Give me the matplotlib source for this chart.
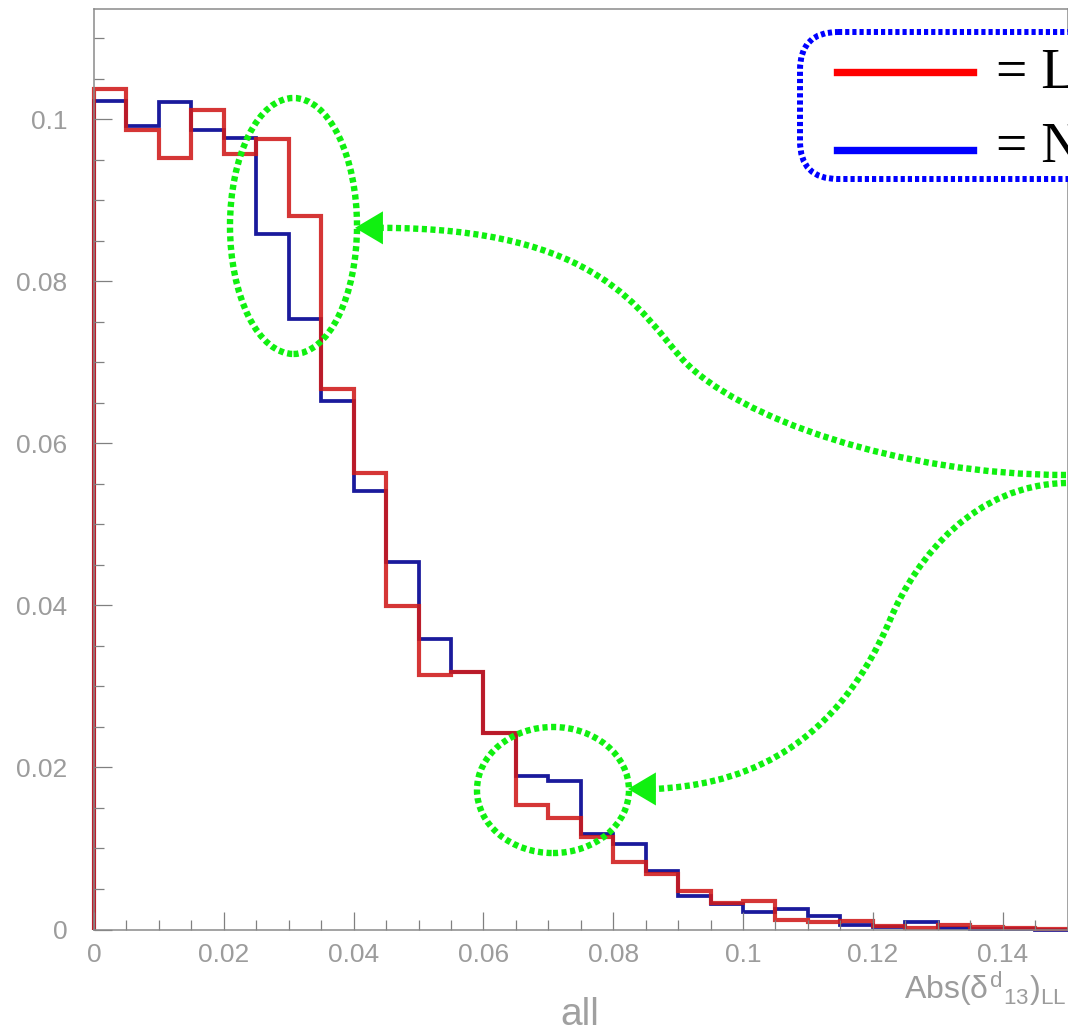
import numpy as np
import matplotlib
matplotlib.use("Agg")
import matplotlib.pyplot as plt
from matplotlib.patches import Ellipse, Polygon, FancyBboxPatch, PathPatch
from matplotlib.path import Path
from matplotlib.lines import Line2D
from matplotlib.ticker import MultipleLocator, FixedLocator, FixedFormatter
from matplotlib.transforms import Affine2D

plt.rcParams['font.family'] = ['Liberation Sans', 'DejaVu Sans']
plt.rcParams['mathtext.fontset'] = 'custom'
plt.rcParams['mathtext.rm'] = 'Liberation Sans'
plt.rcParams['mathtext.it'] = 'Liberation Sans'
plt.rcParams['mathtext.bf'] = 'Liberation Sans:bold'

# histogram: 30 bins of width 0.005 from 0 to 0.15
BIN_EDGES = np.linspace(0.0, 0.15, 31)

L_VALUES = [0.1038, 0.0987, 0.0953, 0.1012, 0.0957, 0.0976, 0.0881, 0.0667,
            0.0564, 0.0399, 0.0314, 0.0318, 0.0242, 0.0154, 0.0138, 0.0114,
            0.0083, 0.0068, 0.0047, 0.0033, 0.0035, 0.0012, 0.0009, 0.0010,
            0.0004, 0.0002, 0.0006, 0.0003, 0.0002, 0.0001]
N_VALUES = [0.1023, 0.0992, 0.1021, 0.0987, 0.0977, 0.0859, 0.0754, 0.0652,
            0.0541, 0.0454, 0.0359, 0.0318, 0.0242, 0.0190, 0.0183, 0.0118,
            0.0105, 0.0072, 0.0041, 0.0032, 0.0022, 0.0025, 0.0017, 0.0006,
            0.0003, 0.0009, 0.0002, 0.0001, 0.0001, 0.0000]

X_TICKS = [0, 0.02, 0.04, 0.06, 0.08, 0.1, 0.12, 0.14]
X_TICK_LABELS = ["0", "0.02", "0.04", "0.06", "0.08", "0.1", "0.12", "0.14"]
Y_TICKS = [0, 0.02, 0.04, 0.06, 0.08, 0.1]
Y_TICK_LABELS = ["0", "0.02", "0.04", "0.06", "0.08", "0.1"]
LEGEND_LABELS = ["= L", "= N"]
X_TITLE = r"Abs($\delta^{d}{}_{13}$)$_{LL}$"
BOTTOM_TEXT = "all"

RED = "#d01a1a"
BLUE = "#1a1a9c"
GREEN = "#10f010"
GREY = "#9c9c9c"

W, H = 1068, 1031
fig = plt.figure(figsize=(W / 100, H / 100), dpi=100)
ax = fig.add_axes([94 / W, 1 - 929.5 / H, (1067.5 - 94) / W, (929.5 - 9.3) / H])

ax.stairs(N_VALUES, BIN_EDGES, baseline=0, color=BLUE, lw=2.7, clip_on=False)
ax.stairs(L_VALUES, BIN_EDGES, baseline=0, color=RED, lw=3.0, alpha=0.88, clip_on=False)

ax.set_xlim(0, 0.15)
ax.set_ylim(0, 0.1136)

ax.xaxis.set_major_locator(FixedLocator(X_TICKS))
ax.xaxis.set_major_formatter(FixedFormatter(X_TICK_LABELS))
ax.xaxis.set_minor_locator(MultipleLocator(0.005))
ax.yaxis.set_major_locator(FixedLocator(Y_TICKS))
ax.yaxis.set_major_formatter(FixedFormatter(Y_TICK_LABELS))
ax.yaxis.set_minor_locator(MultipleLocator(0.005))

ax.tick_params(which='both', direction='in', color='#808080', width=0.9,
               labelcolor=GREY, labelsize=19)
ax.tick_params(which='major', length=13)
ax.tick_params(which='minor', length=7.5)
ax.tick_params(axis='x', pad=10)
ax.tick_params(axis='y', pad=19)
for s in ax.spines.values():
    s.set_color('#8a8a8a')
    s.set_linewidth(1.1)

# green dotted highlights
dots = (0, (0.8, 0.55))
glw = 4.6
ax.add_patch(Ellipse((0.03074, 0.08685), 0.01957, 0.0316, fill=False,
                     ec=GREEN, lw=glw, ls=dots, clip_on=False))
ax.add_patch(Ellipse((0.07072, 0.01722), 0.02342, 0.01556, fill=False,
                     ec=GREEN, lw=glw, ls=dots, clip_on=False))

C4 = Path.CURVE4
upper = Path([(0.14977, 0.05611), (0.12419, 0.05611), (0.09908, 0.06315), (0.09076, 0.07031),
              (0.08413, 0.07625), (0.07797, 0.08662), (0.04407, 0.08662)],
             [Path.MOVETO, C4, C4, C4, C4, C4, C4])
lower = Path([(0.14977, 0.05512), (0.13575, 0.05488), (0.12681, 0.04611), (0.12265, 0.03821),
              (0.11341, 0.02093), (0.09800, 0.01784), (0.08644, 0.01735)],
             [Path.MOVETO, C4, C4, C4, C4, C4, C4])
for p in (upper, lower):
    ax.add_patch(PathPatch(p, fill=False, ec=GREEN, lw=glw, ls=dots, clip_on=False))

for tip_x, tip_y in [(0.04022, 0.08662), (0.08228, 0.01735)]:
    ax.add_patch(Polygon([(tip_x, tip_y), (tip_x + 0.00430, tip_y + 0.00204),
                          (tip_x + 0.00430, tip_y - 0.00204)],
                         closed=True, fc=GREEN, ec='none', clip_on=False))

# legend overlay, in picture pixels measured from the top-left corner
pix = Affine2D().scale(1, -1).translate(0, H)
fig.add_artist(FancyBboxPatch((800, 32), 600, 147,
                              boxstyle="round,pad=0,rounding_size=38",
                              transform=pix, fc='white', ec='#0000ff',
                              lw=4.3, ls=(0, (0.7, 0.5))))
fig.add_artist(Line2D([837, 973], [72, 72], transform=pix, color='#ff0000', lw=5.3))
fig.add_artist(Line2D([837, 973], [150, 150], transform=pix, color='#0000ff', lw=5.3))
fig.text(996, 88, LEGEND_LABELS[0], transform=pix, ha='left', va='baseline',
         fontsize=40, family='Liberation Serif', color='black')
fig.text(996, 162, LEGEND_LABELS[1], transform=pix, ha='left', va='baseline',
         fontsize=40, family='Liberation Serif', color='black')

fig.text(1066, 999, X_TITLE, transform=pix, ha='right', va='baseline',
         fontsize=23, color=GREY)
fig.text(580, 1025, BOTTOM_TEXT, transform=pix, ha='center', va='baseline',
         fontsize=28, color='#a0a0a0')

fig.savefig("out.png", dpi=100, facecolor='white')
